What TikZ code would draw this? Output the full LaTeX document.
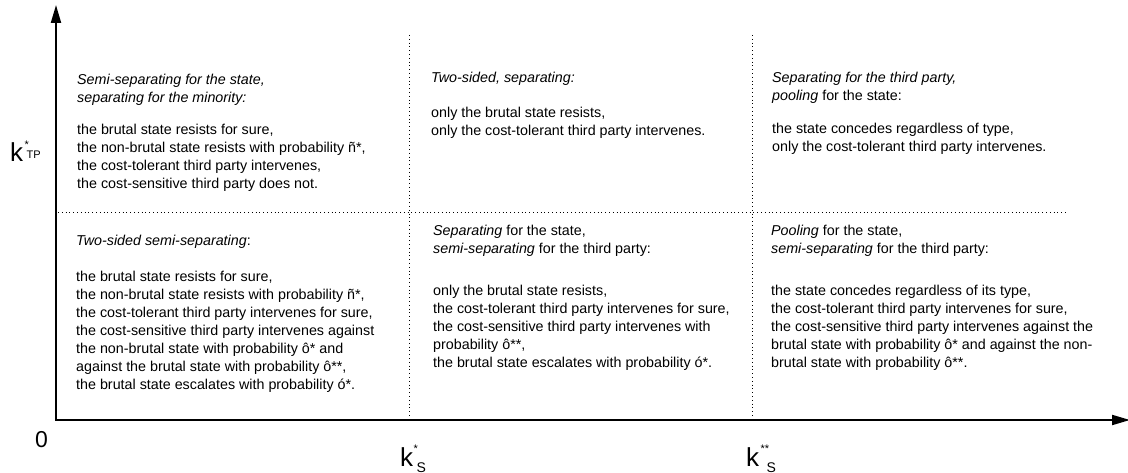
\documentclass[tikz,border=0pt]{standalone}
\usepackage{fontspec}
\setmainfont{Liberation Sans}
\usetikzlibrary{arrows.meta}

\begin{document}
\begin{tikzpicture}[x=1pt,y=-1pt,
  cell/.style={anchor=north west,inner sep=0pt,align=left,font=\fontsize{14.3}{18}\selectfont},
  axis/.style={line width=2pt,line cap=rect,-{Triangle[length=18pt,width=10pt]}},
  grid/.style={line width=1pt,dash pattern=on 1pt off 2.8pt},
  lab/.style={inner sep=0pt,anchor=base west,font=\fontsize{26}{26}\selectfont},
  idx/.style={inner sep=0pt,anchor=base west,font=\fontsize{11}{11}\selectfont},
  sidx/.style={inner sep=0pt,anchor=base west,font=\fontsize{14}{14}\selectfont}]
\useasboundingbox (0,0) rectangle (1128,473);

% axes
\coordinate (o) at (56,420);
\coordinate (ytop) at (56,5);
\coordinate (xend) at (1130,420);
\draw[axis] (o) -- (ytop);
\draw[axis] (o) -- (xend);

% thresholds
\draw[grid] (58,213) -- (1067,213);
\draw[grid] (409,35) -- (409,417);
\draw[grid] (752,35) -- (752,417);

% axis labels
\node[lab] (kTP) at (10,162) {k};
\node[idx] (kTPsup) at ([xshift=1pt,yshift=13pt]kTP.base east) {*};
\node[idx] (kTPsub) at ([xshift=3pt,yshift=3pt]kTP.base east) {TP};
\node[inner sep=0pt,anchor=base,font=\fontsize{23}{23}\selectfont] (zero) at (41.5,447) {0};
\node[lab] (kS) at (400,466) {k};
\node[idx] (kSsup) at ([yshift=14pt]kS.base east) {*};
\node[sidx] (kSsub) at ([xshift=3pt,yshift=-6pt]kS.base east) {S};
\node[lab] (kSS) at (746,466) {k};
\node[idx] (kSSsup) at ([xshift=1pt,yshift=14pt]kSS.base east) {**};
\node[sidx] (kSSsub) at ([xshift=7pt,yshift=-6pt]kSS.base east) {S};

% upper row
\node[cell] (tl) at (77,73.7) {\textit{Semi-separating for the state,}\\
  \textit{separating for the minority:}\\[14pt]
  the brutal state resists for sure,\\
  the non-brutal state resists with probability ñ*,\\
  the cost-tolerant third party intervenes,\\
  the cost-sensitive third party does not.};
\node[cell] (tc) at (431,71.7) {\textit{Two-sided, separating:}\\[17pt]
  only the brutal state resists,\\
  only the cost-tolerant third party intervenes.};
\node[cell] (tr) at (772,71.7) {\textit{Separating for the third party,}\\
  \textit{pooling} for the state:\\[15pt]
  the state concedes regardless of type,\\
  only the cost-tolerant third party intervenes.};

% lower row
\node[cell] (bl) at (76,234.7) {\textit{Two-sided semi-separating}:\\[18pt]
  the brutal state resists for sure,\\
  the non-brutal state resists with probability ñ*,\\
  the cost-tolerant third party intervenes for sure,\\
  the cost-sensitive third party intervenes against\\
  the non-brutal state with probability ô* and\\
  against the brutal state with probability ô**,\\
  the brutal state escalates with probability ó*.};
\node[cell] (bc) at (433,224.7) {\textit{Separating} for the state,\\
  \textit{semi-separating} for the third party:\\[24pt]
  only the brutal state resists,\\
  the cost-tolerant third party intervenes for sure,\\
  the cost-sensitive third party intervenes with\\
  probability ô**,\\
  the brutal state escalates with probability ó*.};
\node[cell] (br) at (771,224.7) {\textit{Pooling} for the state,\\
  \textit{semi-separating} for the third party:\\[24pt]
  the state concedes regardless of its type,\\
  the cost-tolerant third party intervenes for sure,\\
  the cost-sensitive third party intervenes against the\\
  brutal state with probability ô* and against the non-\\
  brutal state with probability ô**.};
\end{tikzpicture}
\end{document}
